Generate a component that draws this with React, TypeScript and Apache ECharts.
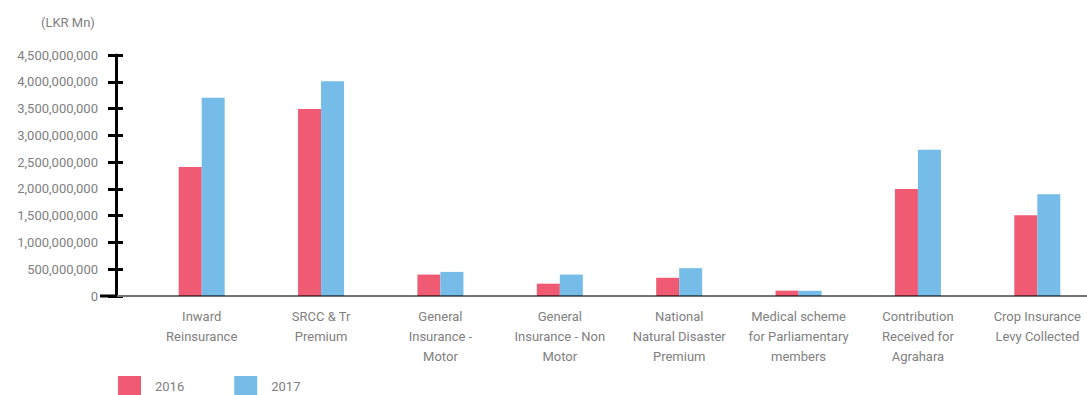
import React, { useEffect, useRef } from "react";
import * as echarts from "echarts";

const categories = [
  "Inward\nReinsurance",
  "SRCC & Tr\nPremium",
  "General\nInsurance -\nMotor",
  "General\nInsurance - Non\nMotor",
  "National\nNatural Disaster\nPremium",
  "Medical scheme\nfor Parliamentary\nmembers",
  "Contribution\nReceived for\nAgrahara",
  "Crop Insurance\nLevy Collected",
];
const values2016 = [2410000000, 3490000000, 400000000, 230000000, 340000000, 100000000, 2000000000, 1510000000];
const values2017 = [3700000000, 4010000000, 450000000, 400000000, 520000000, 97000000, 2730000000, 1900000000];
const seriesNames = ["2016", "2017"];
const unitLabel = "(LKR Mn)";

const RED = "#F05A72";
const BLUE = "#75BDE8";
const GRAY = "#808080";
const FONT = "Roboto";

export default function App() {
  const ref = useRef<HTMLDivElement>(null);
  useEffect(() => {
    if (!ref.current) return;
    const chart = echarts.init(ref.current, undefined, { renderer: "svg" });
    const yCommon = {
      type: "value" as const,
      min: 0,
      max: 4500000000,
      interval: 500000000,
      position: "left" as const,
      offset: 26,
      splitLine: { show: false },
    };
    chart.setOption({
      animation: false,
      textStyle: { fontFamily: FONT },
      title: {
        text: unitLabel,
        left: 36,
        top: 11,
        textStyle: { fontSize: 13, fontWeight: "normal", color: GRAY, fontFamily: FONT },
      },
      legend: {
        left: 118,
        top: 376,
        padding: 0,
        itemWidth: 23,
        itemHeight: 20,
        itemGap: 50,
        icon: "rect",
        textStyle: { fontSize: 13, color: GRAY, fontFamily: FONT, padding: [0, 0, 0, 9] },
        data: seriesNames,
      },
      grid: { left: 142, top: 55, bottom: 99, width: 955 },
      xAxis: {
        type: "category",
        data: categories,
        z: 3,
        axisLine: { lineStyle: { color: "rgba(0,0,0,0.55)", width: 2 } },
        axisTick: { alignWithLabel: true, length: 7, lineStyle: { color: "#000", width: 3 } },
        axisLabel: {
          interval: 0,
          margin: 10,
          fontSize: 13,
          lineHeight: 20,
          color: GRAY,
          fontFamily: FONT,
        },
      },
      yAxis: [
        {
          ...yCommon,
          axisLine: { show: true, lineStyle: { color: "#000", width: 3 } },
          axisTick: { show: true, length: 8, lineStyle: { color: "#000", width: 3 } },
          axisLabel: {
            margin: 18,
            fontSize: 13,
            color: GRAY,
            fontFamily: FONT,
            formatter: (v: number) => v.toLocaleString("en-US"),
          },
        },
        {
          ...yCommon,
          axisLine: { show: false },
          axisTick: { show: true, inside: true, length: 7, lineStyle: { color: "#000", width: 3 } },
          axisLabel: { show: false },
        },
      ],
      graphic: [
        {
          type: "line",
          z: 100,
          shape: { x1: 117, y1: 296, x2: 146, y2: 296 },
          style: { stroke: "#737373", lineWidth: 2 },
        },
        {
          type: "line",
          z: 101,
          shape: { x1: 100, y1: 296, x2: 117, y2: 296 },
          style: { stroke: "#000000", lineWidth: 3 },
        },
      ],
      series: [
        {
          name: seriesNames[0],
          type: "bar",
          data: values2016,
          barWidth: 23,
          barGap: "0%",
          itemStyle: { color: RED },
        },
        {
          name: seriesNames[1],
          type: "bar",
          data: values2017,
          barWidth: 23,
          barGap: "0%",
          itemStyle: { color: BLUE },
        },
      ],
    });
    return () => chart.dispose();
  }, []);
  return (
    <div style={{ position: "fixed", left: 0, top: 0, width: 1087, height: 395, overflow: "hidden", background: "#fff" }}>
      <div ref={ref} style={{ position: "absolute", left: 0, top: 0, width: 1100, height: 395 }} />
    </div>
  );
}
